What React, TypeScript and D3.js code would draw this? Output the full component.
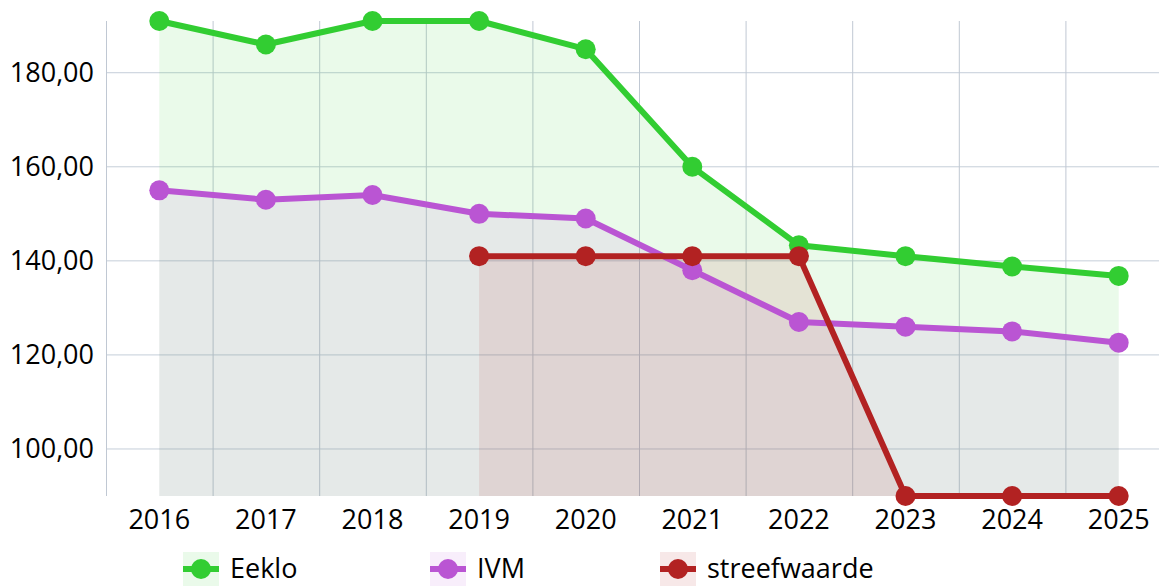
import React from "react";
import * as d3 from "d3";

const years = ["2016", "2017", "2018", "2019", "2020", "2021", "2022", "2023", "2024", "2025"];
const eeklo = [191, 186, 191, 191, 185, 160, 143.3, 141, 138.8, 136.8];
const ivm = [155, 153, 154, 150, 149, 138, 127, 126, 125, 122.6];
const streefwaarde: (number | null)[] = [null, null, null, 141, 141, 141, 141, 90, 90, 90];
const yTicks = [100, 120, 140, 160, 180];

const seriesList = [
  { name: "Eeklo", values: eeklo as (number | null)[], color: "#32CD32", legendX: 183 },
  { name: "IVM", values: ivm as (number | null)[], color: "#BA55D3", legendX: 430 },
  { name: "streefwaarde", values: streefwaarde, color: "#B22222", legendX: 660 },
];

const W = 1159;
const H = 586;
const FONT = "'Segoe UI', 'Open Sans', sans-serif";

export default function App() {
  const left = 106;
  const top = 21;
  const bottom = 496;
  const x = d3.scaleBand<string>().domain(years).range([left, left + 106.6 * years.length]).padding(0);
  const y = d3.scaleLinear().domain([90, 191]).range([bottom, top]);
  const cx = (i: number) => (x(years[i]) as number) + x.bandwidth() / 2;

  const line = d3
    .line<number | null>()
    .defined((d) => d !== null)
    .x((_, i) => cx(i))
    .y((d) => y(d as number));
  const area = d3
    .area<number | null>()
    .defined((d) => d !== null)
    .x((_, i) => cx(i))
    .y0(bottom)
    .y1((d) => y(d as number));

  return (
    <svg width={W} height={H} style={{ position: "absolute", left: 0, top: 0, display: "block" }} fontFamily={FONT}>
      {yTicks.map((t) => (
        <line key={"h" + t} x1={left} x2={W} y1={y(t)} y2={y(t)} stroke="#c5ced9" strokeWidth={1} />
      ))}
      {years.map((yr) => (
        <line
          key={"v" + yr}
          x1={(x(yr) as number) + 0.5}
          x2={(x(yr) as number) + 0.5}
          y1={top}
          y2={bottom}
          stroke="#c0c8d3"
          strokeWidth={1}
        />
      ))}
      {seriesList.map((s) => (
        <path key={"a" + s.name} d={area(s.values) || ""} fill={s.color} fillOpacity={0.1} />
      ))}
      {seriesList.map((s) => (
        <g key={"l" + s.name}>
          <path d={line(s.values) || ""} fill="none" stroke={s.color} strokeWidth={6} strokeLinejoin="round" />
          {s.values.map((v, i) =>
            v === null ? null : <circle key={i} cx={cx(i)} cy={y(v)} r={10} fill={s.color} />
          )}
        </g>
      ))}
      {yTicks.map((t) => (
        <text key={"yt" + t} x={94} y={y(t)} dy="0.35em" textAnchor="end" fontSize={27} fill="#000">
          {d3.format(".2f")(t).replace(".", ",")}
        </text>
      ))}
      {years.map((yr, i) => (
        <text key={"xt" + yr} x={cx(i)} y={529} textAnchor="middle" fontSize={27} fill="#000">
          {yr}
        </text>
      ))}
      {seriesList.map((s) => (
        <g key={"lg" + s.name}>
          <rect x={s.legendX} y={552} width={36} height={34} fill={s.color} fillOpacity={0.1} />
          <line x1={s.legendX} x2={s.legendX + 36} y1={569} y2={569} stroke={s.color} strokeWidth={6} />
          <circle cx={s.legendX + 18} cy={569} r={10} fill={s.color} />
          <text x={s.legendX + 47} y={569} dy="0.35em" fontSize={27} fill="#000">
            {s.name}
          </text>
        </g>
      ))}
    </svg>
  );
}
